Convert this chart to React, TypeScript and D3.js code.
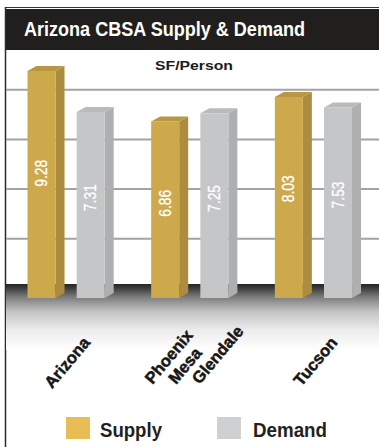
import React from "react";
import * as d3 from "d3";

const categories = ["Arizona", "Phoenix Mesa Glendale", "Tucson"];
const seriesNames = ["Supply", "Demand"];
const supplyValues = [9.28, 6.86, 8.03];
const demandValues = [7.31, 7.25, 7.53];
const gridTicks = [2, 4, 6, 8];
const title = "Arizona CBSA Supply & Demand";
const subtitle = "SF/Person";

const W = 379;
const H = 447;

const colors: Record<string, { front: string; side: string; top: string; legend: string }> = {
  Supply: { front: "#CDA94C", side: "#AC8C3F", top: "#B89643", legend: "#E8BD56" },
  Demand: { front: "#C5C6C8", side: "#AEAFB1", top: "#B9BABC", legend: "#CFD0D2" },
};

export default function App() {
  const x0 = d3.scaleBand<string>().domain(categories).range([8, 379]).padding(0);
  const x1 = d3
    .scaleBand<string>()
    .domain(seriesNames)
    .range([19.5, 96.7])
    .paddingInner(0.43)
    .paddingOuter(0);
  // back wall (gridlines / labels)
  const y = d3.scaleLinear().domain([0, 10]).range([288.5, 40]);
  // projected front face of the 3D columns
  const yBar = d3.scaleLinear().domain([0, 10]).range([264.5, 55.9]);

  const depthX = 9;
  const depthY = 5;
  const bottomFront = 298;
  const bw = x1.bandwidth();

  const data = categories.map((c, i) => ({
    cat: c,
    vals: [
      { s: "Supply", v: supplyValues[i] },
      { s: "Demand", v: demandValues[i] },
    ],
  }));

  const narrow = "'Liberation Sans Narrow', 'Arial Narrow', 'Liberation Sans', Arial, sans-serif";
  const sans = "'Liberation Sans', Arial, Helvetica, sans-serif";

  return (
    <svg
      width={W}
      height={H}
      style={{ position: "absolute", left: 0, top: 0, display: "block", background: "#fff" }}
    >
      <defs>
        <linearGradient id="floorGrad" x1="0" y1="0" x2="0" y2="1">
          <stop offset="0" stopColor="#242424" />
          <stop offset="0.06" stopColor="#3c3c3c" />
          <stop offset="0.2" stopColor="#7d7d7d" />
          <stop offset="0.42" stopColor="#c4c4c4" />
          <stop offset="0.7" stopColor="#ececec" />
          <stop offset="1" stopColor="#ffffff" />
        </linearGradient>
      </defs>

      {/* frame */}
      <line x1={5} x2={379} y1={7.5} y2={7.5} stroke="#333" strokeWidth={1} />
      <rect x={5} y={9} width={374} height={41} fill="#201f1d" />
      <line x1={5.5} x2={5.5} y1={7} y2={447} stroke="#2a2a2a" strokeWidth={1.5} />

      <text
        x={24}
        y={35.5}
        fill="#ffffff"
        fontFamily={narrow}
        fontWeight="bold"
        fontSize={21}
        textLength={281}
        lengthAdjust="spacingAndGlyphs"
      >
        {title}
      </text>

      <text
        x={194}
        y={69.5}
        textAnchor="middle"
        fill="#1a1a1a"
        fontFamily={sans}
        fontWeight="bold"
        fontSize={13}
        textLength={78}
        lengthAdjust="spacingAndGlyphs"
      >
        {subtitle}
      </text>

      {/* gridlines */}
      {gridTicks.map((t) => (
        <line key={t} x1={6} x2={379} y1={y(t)} y2={y(t)} stroke="#a3a3a3" strokeWidth={2} />
      ))}

      {/* floor */}
      <rect x={6} y={284} width={373} height={66} fill="url(#floorGrad)" />

      {/* bars */}
      {data.map((d) => (
        <g key={d.cat} transform={`translate(${x0(d.cat)},0)`}>
          {d.vals.map(({ s, v }) => {
            const bx = x1(s) as number;
            const yf = yBar(v);
            const c = colors[s];
            const labelY = (y(v) + y(0)) / 2;
            return (
              <g key={s}>
                <polygon
                  points={`${bx + bw},${yf} ${bx + bw + depthX},${yf - depthY} ${bx + bw + depthX},${bottomFront - depthY} ${bx + bw},${bottomFront}`}
                  fill={c.side}
                />
                <polygon
                  points={`${bx},${yf} ${bx + bw},${yf} ${bx + bw + depthX},${yf - depthY} ${bx + depthX},${yf - depthY}`}
                  fill={c.top}
                />
                <rect x={bx} y={yf} width={bw} height={bottomFront - yf} fill={c.front} />
                <text
                  transform={`translate(${bx + bw / 2},${labelY}) rotate(-90)`}
                  textAnchor="middle"
                  dominantBaseline="central"
                  fill="#ffffff"
                  stroke="#ffffff"
                  strokeWidth={0.3}
                  fontFamily={sans}
                  fontSize={17}
                  textLength={27}
                  lengthAdjust="spacingAndGlyphs"
                >
                  {v.toFixed(2)}
                </text>
              </g>
            );
          })}
        </g>
      ))}

      {/* category labels */}
      {categories.map((c) => {
        const cx = (x0(c) as number) + x0.bandwidth() / 2;
        const lines = c.split(" ");
        const common = {
          fill: "#161616",
          stroke: "#161616",
          strokeWidth: 0.5,
          fontFamily: sans,
          fontWeight: "bold" as const,
          fontSize: 16.5,
        };
        if (lines.length === 1) {
          return (
            <text key={c} transform={`translate(${cx + 21},343) rotate(-50)`} textAnchor="end" {...common}>
              {c}
            </text>
          );
        }
        return (
          <g key={c}>
            {lines.map((ln, i) => (
              <text
                key={ln}
                transform={`translate(${cx - 41 + i * 23.5},385) rotate(-50)`}
                textAnchor="start"
                {...common}
              >
                {ln}
              </text>
            ))}
          </g>
        );
      })}

      {/* legend */}
      {[
        { s: "Supply", rx: 66, tx: 100, tl: 62 },
        { s: "Demand", rx: 217, tx: 253, tl: 74 },
      ].map((l) => (
        <g key={l.s}>
          <rect x={l.rx} y={417} width={24} height={22} fill={colors[l.s].legend} />
          <text
            x={l.tx}
            y={437}
            fill="#231f20"
            fontFamily={narrow}
            fontWeight="bold"
            fontSize={19.5}
            textLength={l.tl}
            lengthAdjust="spacingAndGlyphs"
          >
            {l.s}
          </text>
        </g>
      ))}
    </svg>
  );
}
